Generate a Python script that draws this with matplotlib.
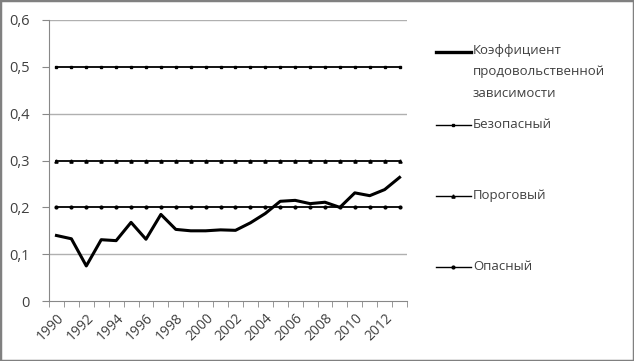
import matplotlib.pyplot as plt
from matplotlib.lines import Line2D
from matplotlib.patches import Rectangle

years = list(range(1990, 2014))
coef = [0.140, 0.133, 0.075, 0.131, 0.129, 0.168, 0.132, 0.185, 0.153, 0.150,
        0.150, 0.152, 0.151, 0.167, 0.187, 0.213, 0.215, 0.208, 0.211, 0.200,
        0.231, 0.225, 0.238, 0.264]
safe = [0.5] * len(years)
threshold = [0.3] * len(years)
danger = [0.2] * len(years)

labels = ["Коэффициент\nпродовольственной\nзависимости",
          "Безопасный", "Пороговый", "Опасный"]
yticks = [0, 0.1, 0.2, 0.3, 0.4, 0.5, 0.6]
ytick_labels = ["0", "0,1", "0,2", "0,3", "0,4", "0,5", "0,6"]

plt.rcParams['font.family'] = ['Open Sans', 'DejaVu Sans']
txt = "#404040"

fig = plt.figure(figsize=(6.34, 3.61), dpi=100)
ax = fig.add_axes([0.0773, 0.166, 0.5647, 0.7786])

xs = list(range(len(years)))
for v in [0.1, 0.4, 0.6]:
    ax.axhline(v, color="#b0b0b0", lw=1, zorder=0)

ax.plot(xs, safe, color="black", lw=1.3, marker="s", ms=1.8)
ax.plot(xs, threshold, color="black", lw=1.3, marker="^", ms=2.3)
ax.plot(xs, danger, color="black", lw=1.3, marker="o", ms=2.0)
ax.plot(xs, coef, color="black", lw=2.2)

ax.set_xlim(-0.5, len(years) - 0.5)
ax.set_ylim(0, 0.6)
ax.set_yticks(yticks)
ax.set_yticklabels(ytick_labels, color=txt, fontsize=10.5)
ax.set_xticks(xs[::2])
ax.set_xticklabels([str(y) for y in years[::2]], rotation=45, ha="right",
                   rotation_mode="anchor", color=txt, fontsize=10)
ax.set_xticks([x - 0.5 for x in range(len(years) + 1)], minor=True)
ax.tick_params(axis="x", which="major", length=0, pad=7)
ax.tick_params(axis="x", which="minor", length=4, color="#888888")
ax.tick_params(axis="y", length=5, color="#888888", pad=9)

for s in ["top", "right"]:
    ax.spines[s].set_visible(False)
for s in ["left", "bottom"]:
    ax.spines[s].set_color("#888888")

# legend drawn by hand, Excel style
W, H = 634, 361
entries = [(52, 2.4, None, 0), (125, 1.0, "s", 1.8),
           (196, 1.0, "^", 2.3), (267, 1.0, "o", 2.0)]
for (yp, lw, mk, ms), lab in zip(entries, labels):
    yy = 1 - yp / H
    fig.add_artist(Line2D([436 / W, 471 / W], [yy, yy], color="black", lw=lw))
    if mk:
        fig.add_artist(Line2D([453 / W], [yy], color="black", marker=mk,
                              ms=ms))
    fig.text(473 / W, yy, lab, ha="left", va="top" if "\n" in lab else "center",
             fontsize=9.5, color=txt, linespacing=1.85,
             transform=fig.transFigure)

fig.texts[0].set_y(1 - 44 / H)

fig.add_artist(Rectangle((0, 0), 1, 1, transform=fig.transFigure,
                         fill=False, edgecolor="#808080", lw=2.5))

plt.savefig("out.png", dpi=100)
plt.close()
